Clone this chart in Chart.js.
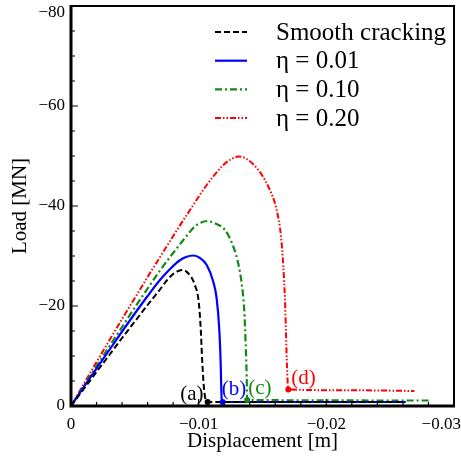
<!DOCTYPE html>
<html>
<head>
<meta charset="utf-8">
<script src="https://cdn.jsdelivr.net/npm/chart.js@4.4.1/dist/chart.umd.min.js"></script>
<style>
  html, body { margin: 0; padding: 0; background: #fff; }
  #wrap { width: 461px; height: 460px; }
</style>
</head>
<body>
<div id="wrap"><canvas id="chart" width="461" height="460"></canvas></div>
<script>
// displacement [m] and load [MN]
const smoothDisp = [0, -0.001, -0.002, -0.003, -0.004, -0.005, -0.006, -0.007, -0.0075, -0.008, -0.0084, -0.0087, -0.0092, -0.0097, -0.01, -0.01016, -0.01028, -0.01044, -0.0107, -0.0262];
const smoothLoad = [0, -3.4, -6.8, -10.2, -13.6, -16.9, -20.2, -23.4, -25.1, -26.4, -27.0, -27.2, -26.5, -24.2, -20.9, -15.5, -8.9, -2.9, -0.8, -0.8];

const eta01Disp = [0, -0.001, -0.002, -0.003, -0.004, -0.005, -0.006, -0.007, -0.0078, -0.0085, -0.009, -0.0096, -0.0101, -0.01063, -0.01114, -0.01141, -0.01161, -0.01172, -0.0118, -0.01188, -0.0262];
const eta01Load = [0, -3.8, -7.5, -11.2, -14.9, -18.5, -22.0, -25.3, -27.5, -29.1, -29.8, -30.1, -29.6, -28.2, -24.9, -21.5, -15.5, -8.9, -1.5, -0.8, -0.8];

const eta10Disp = [0, -0.001, -0.002, -0.003, -0.004, -0.005, -0.006, -0.007, -0.008, -0.0088, -0.0097, -0.0102, -0.01067, -0.0112, -0.01206, -0.01271, -0.0131, -0.01337, -0.01357, -0.01368, -0.01376, -0.0138, -0.0281];
const eta10Load = [0, -4.0, -8.0, -11.9, -15.8, -19.7, -23.5, -27.2, -30.6, -33.2, -35.9, -36.7, -37.0, -36.6, -35.2, -31.9, -28.5, -24.5, -19.2, -12.5, -5.9, -1.2, -1.1];

const eta20Disp = [0, -0.001, -0.002, -0.003, -0.004, -0.005, -0.006, -0.007, -0.00828, -0.00932, -0.01063, -0.01193, -0.0125, -0.0131, -0.0137, -0.01467, -0.01545, -0.01611, -0.01645, -0.01663, -0.01676, -0.01684, -0.01692, -0.01702, -0.022, -0.0269];
const eta20Load = [0, -4.4, -8.8, -13.1, -17.4, -21.6, -25.8, -29.9, -35.1, -39.2, -44.2, -48.2, -49.3, -49.9, -49.5, -47.2, -43.9, -39.2, -33.9, -27.9, -21.2, -14.5, -7.9, -3.3, -3.15, -3.0];

const markerDisp = [-0.0107, -0.01188, -0.0138, -0.01702];
const markerLoad = [-0.8, -0.8, -1.2, -3.3];
const markerLabels = ['(a)', '(b)', '(c)', '(d)'];

const seriesLabels = ['Smooth cracking', 'η = 0.01', 'η = 0.10', 'η = 0.20'];

const xTickValues = [0, -0.01, -0.02, -0.03];
const xTickLabels = ['0', '\u22120.01', '\u22120.02', '\u22120.03'];
const yTickValues = [0, -20, -40, -60, -80];
const yTickLabels = ['0', '\u221220', '\u221240', '\u221260', '\u221280'];

const SERIF = "'Liberation Serif', 'Times New Roman', serif";
const colors = ['#000000', '#0000ff', '#108a10', '#ff0000'];
const dashes = [[6, 3], [], [7, 3, 2, 3], [6, 2, 1.5, 2, 1.5, 2]];
const widths = [2, 2.2, 2.2, 2];

function toPoints(xs, ys) {
    return xs.map((x, i) => ({ x: x, y: ys[i] }));
}

const curves = [
    toPoints(smoothDisp, smoothLoad),
    toPoints(eta01Disp, eta01Load),
    toPoints(eta10Disp, eta10Load),
    toPoints(eta20Disp, eta20Load)
];

const datasets = curves.map((pts, i) => ({
    label: seriesLabels[i],
    data: pts,
    borderColor: colors[i],
    borderDash: dashes[i],
    borderWidth: widths[i],
    pointRadius: 0,
    cubicInterpolationMode: 'monotone',
    fill: false
}));

// crack points on top of everything
datasets.unshift({
    label: 'markers',
    data: toPoints(markerDisp, markerLoad),
    showLine: false,
    pointRadius: 3,
    pointBackgroundColor: colors,
    pointBorderColor: colors,
    pointBorderWidth: 0
});

// label offsets next to each crack point (px)
const markerOffsets = [
    { dx: -4, dy: -8, align: 'right' },
    { dx: -1, dy: -13, align: 'left' },
    { dx: 1, dy: -12, align: 'left' },
    { dx: 3, dy: -11, align: 'left' }
];

const decorPlugin = {
    id: 'decor',
    afterDatasetsDraw(chart) {
        const { ctx, chartArea: a, scales: { x, y } } = chart;
        ctx.save();
        ctx.strokeStyle = '#000';
        ctx.setLineDash([]);

        // inward ticks, major and minor
        ctx.lineWidth = 1.2;
        ctx.beginPath();
        for (let i = 0; i <= 15; i++) {
            const px = x.getPixelForValue(-i * 0.002);
            const len = i % 5 === 0 ? 7 : 4;
            ctx.moveTo(px, a.bottom);
            ctx.lineTo(px, a.bottom - len);
        }
        for (let i = 0; i <= 16; i++) {
            const py = y.getPixelForValue(-i * 5);
            const len = i % 4 === 0 ? 7 : 4;
            ctx.moveTo(a.left, py);
            ctx.lineTo(a.left + len, py);
        }
        ctx.stroke();

        // frame
        ctx.lineWidth = 2;
        ctx.strokeRect(a.left, a.top, a.right - a.left, a.bottom - a.top);
        ctx.lineWidth = 3;
        ctx.beginPath();
        ctx.moveTo(a.left, a.top - 1);
        ctx.lineTo(a.left, a.bottom);
        ctx.lineTo(a.right + 1, a.bottom);
        ctx.stroke();

        // point labels
        ctx.font = '21px ' + SERIF;
        ctx.textBaseline = 'middle';
        markerLabels.forEach((txt, i) => {
            const px = x.getPixelForValue(markerDisp[i]);
            const py = y.getPixelForValue(markerLoad[i]);
            const o = markerOffsets[i];
            ctx.fillStyle = colors[i];
            ctx.textAlign = o.align;
            ctx.fillText(txt, px + o.dx, py + o.dy);
        });

        // legend
        ctx.font = '25px ' + SERIF;
        ctx.textAlign = 'left';
        seriesLabels.forEach((txt, i) => {
            const ly = 32 + i * 28.7;
            ctx.strokeStyle = colors[i];
            ctx.lineWidth = widths[i];
            ctx.setLineDash(dashes[i]);
            ctx.beginPath();
            ctx.moveTo(215, ly);
            ctx.lineTo(247, ly);
            ctx.stroke();
            ctx.fillStyle = '#000';
            ctx.fillText(txt, 276, ly + 1);
        });
        ctx.restore();
    }
};

function init() {
    const ctx = document.getElementById('chart').getContext('2d');
    new Chart(ctx, {
        type: 'line',
        data: { datasets: datasets },
        options: {
            responsive: false,
            animation: false,
            devicePixelRatio: 1,
            layout: { padding: { top: 6, right: 7, left: 0, bottom: 0 } },
            plugins: {
                legend: { display: false },
                tooltip: { enabled: false }
            },
            scales: {
                x: {
                    type: 'linear',
                    min: -0.03,
                    max: 0,
                    reverse: true,
                    grid: { display: false, drawTicks: false },
                    border: { display: false },
                    afterBuildTicks: (scale) => {
                        scale.ticks = xTickValues.map(v => ({ value: v }));
                    },
                    afterFit: (scale) => {
                        scale.height = 54;
                        scale.paddingLeft = 0;
                        scale.paddingRight = 0;
                    },
                    ticks: {
                        padding: 8,
                        color: '#000',
                        font: { family: SERIF, size: 17 },
                        maxRotation: 0,
                        autoSkip: false,
                        // last label pushed left so it stays on the page
                        callback: (v, i) => i === xTickLabels.length - 1 ? xTickLabels[i] + '      ' : xTickLabels[i]
                    },
                    title: {
                        display: true,
                        text: 'Displacement [m]',
                        color: '#000',
                        font: { family: SERIF, size: 21 },
                        padding: { top: 0, bottom: 6 }
                    }
                },
                y: {
                    type: 'linear',
                    min: -80,
                    max: 0,
                    reverse: true,
                    grid: { display: false, drawTicks: false },
                    border: { display: false },
                    afterBuildTicks: (scale) => {
                        scale.ticks = yTickValues.map(v => ({ value: v }));
                    },
                    afterFit: (scale) => {
                        scale.width = 71;
                        scale.paddingTop = 0;
                        scale.paddingBottom = 0;
                    },
                    ticks: {
                        padding: 6,
                        color: '#000',
                        // top label nudged down below the frame edge
                        font: (c) => ({ family: SERIF, size: 17, lineHeight: c.index === yTickLabels.length - 1 ? 0.75 : 1.2 }),
                        autoSkip: false,
                        callback: (v, i) => i === yTickLabels.length - 1 ? ['', yTickLabels[i]] : yTickLabels[i]
                    },
                    title: {
                        display: true,
                        text: 'Load [MN]',
                        color: '#000',
                        font: { family: SERIF, size: 21 },
                        padding: { top: 8, bottom: 0 }
                    }
                }
            }
        },
        plugins: [decorPlugin]
    });
}

document.addEventListener('DOMContentLoaded', init);
</script>
</body>
</html>
